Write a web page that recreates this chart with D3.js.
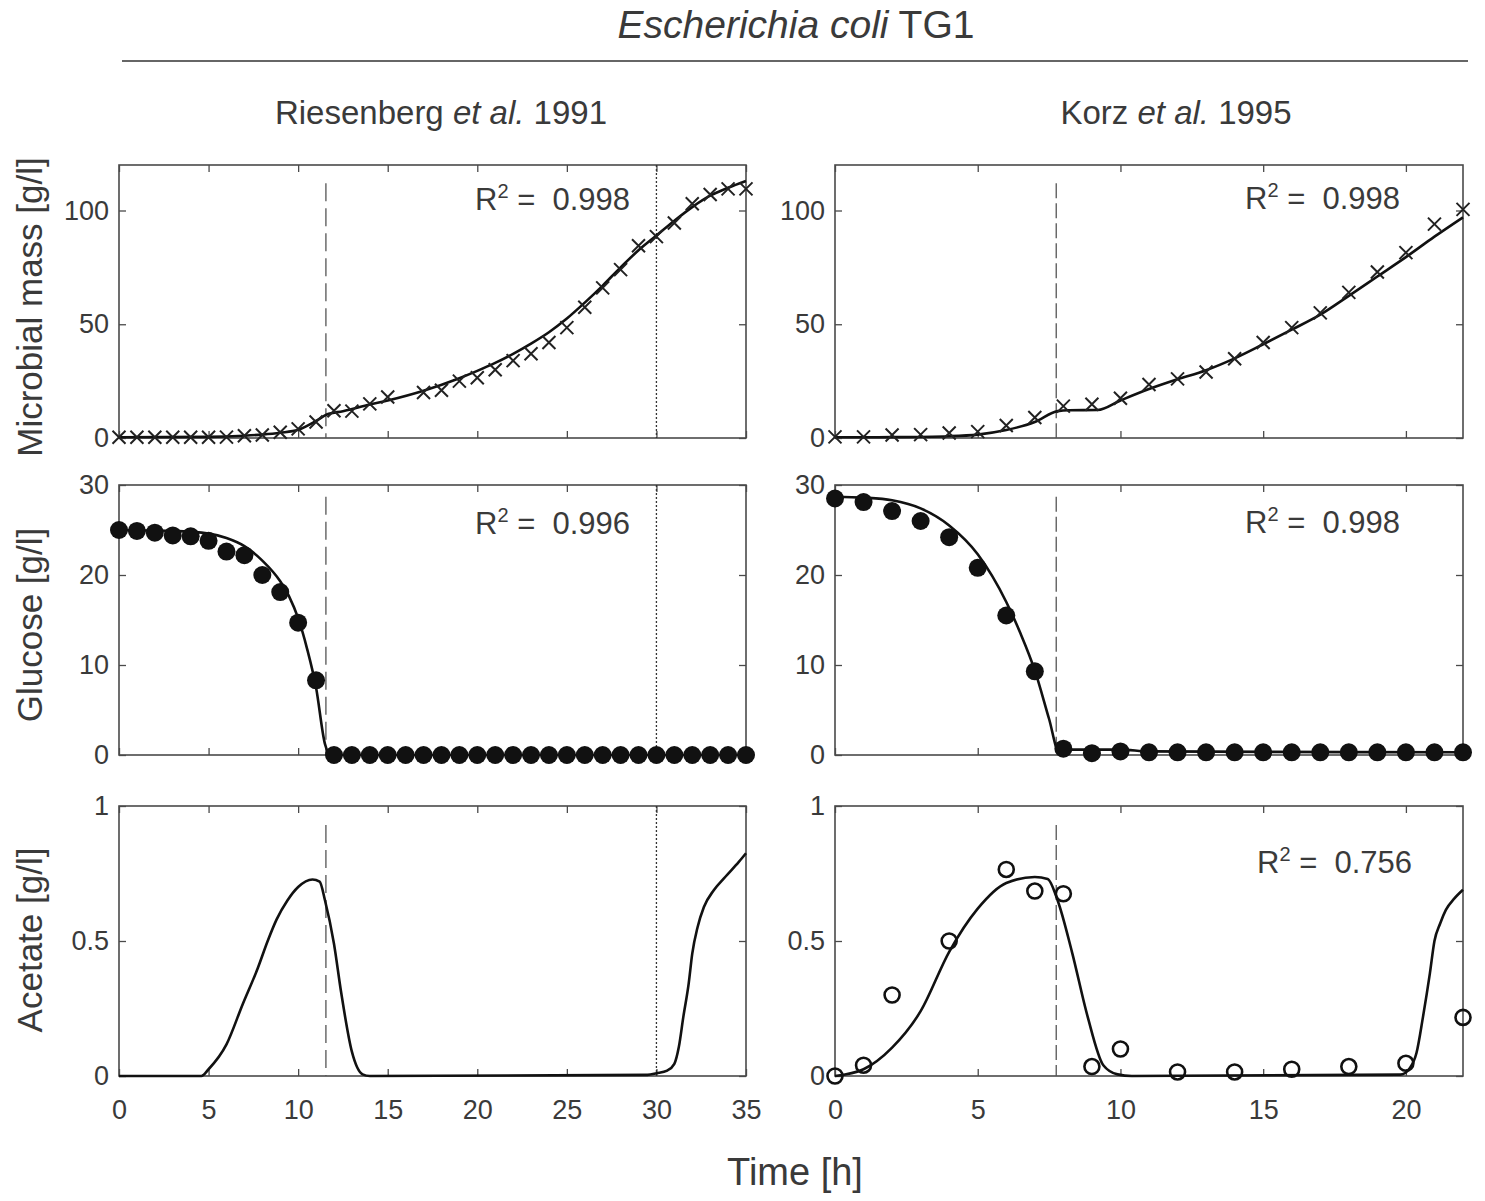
<!DOCTYPE html>
<html>
<head>
<meta charset="utf-8">
<script src="https://cdn.jsdelivr.net/npm/d3@7"></script>
<style>
  body { margin: 0; background: #fff; }
  text { font-family: "Liberation Sans", Arial, sans-serif; fill: #3a3a3a; }
</style>
</head>
<body>
<svg id="chart" width="1485" height="1201"></svg>
<script>
// ---- Riesenberg et al. 1991 ----
const riesMassT = [0,1,2,3,4,5,6,7,8,9,10,11,12,13,14,15,17,18,19,20,21,22,23,24,25,26,27,28,29,30,31,32,33,34,35];
const riesMassV = [0.3,0.3,0.3,0.3,0.3,0.3,0.4,1.0,1.3,2.5,4,7,12,11.8,15,18,20,21,25,26.5,30,34,37,42,48.5,57.5,66,74,84.5,88.5,94.5,103,107,109.5,109.5];
const riesMassFitT = [0,5,7,8,9,10,11,11.6,12.5,14,15,17,19,20,21,22,23,24,25,26,27,28,29,30,31,32,33,34,35];
const riesMassFitV = [0.3,0.5,1,1.5,2.3,3.6,7.5,10.3,11.8,14.7,16.5,20.8,26.3,29.5,33,37,41.5,46.5,52.5,59.5,67,75,82.5,89,95.5,101.5,106.5,110,113];

const riesGlcT = [0,1,2,3,4,5,6,7,8,9,10,11,12,13,14,15,16,17,18,19,20,21,22,23,24,25,26,27,28,29,30,31,32,33,34,35];
const riesGlcV = [25,24.9,24.7,24.4,24.3,23.8,22.6,22.2,20,18.1,14.7,8.3,0,0,0,0,0,0,0,0,0,0,0,0,0,0,0,0,0,0,0,0,0,0,0,0];
const riesGlcFitT = [0,3,5,6,7,8,9,9.5,10,10.5,11,11.5,11.8,35];
const riesGlcFitV = [25,24.9,24.6,24.1,23.2,21.6,19.3,17.6,15.2,11.8,7.5,1.2,0,0];

const riesAceFitT = [0,4.6,5,6,6.9,7.75,8.3,8.8,9.4,10,10.8,11.2,11.5,12,12.4,13,13.6,14,29.5,30,30.6,31,31.25,31.5,31.8,32,32.3,32.65,33.2,33.85,34.6,35];
const riesAceFitV = [0,0,0.025,0.117,0.265,0.4,0.5,0.58,0.65,0.7,0.728,0.72,0.65,0.49,0.31,0.09,0.006,0,0.004,0.01,0.02,0.045,0.107,0.218,0.342,0.453,0.552,0.626,0.688,0.738,0.793,0.825];

// ---- Korz et al. 1995 ----
const korzMassT = [0,1,2,3,4,5,6,7,8,9,10,11,12,13,14,15,16,17,18,19,20,21,22];
const korzMassV = [0.5,0.5,1.3,1.5,2.2,2.8,5.5,9,14,14.8,17.5,23.5,26,29,34.8,42,48.5,55,64,73,81.5,94,100.5];
const korzMassFitT = [0,2,4,5,6,7,7.8,8.2,9.2,10,11,12,13,14,15,16,17,18,19,20,21,22];
const korzMassFitV = [0.3,0.4,0.8,1.5,3.5,7,11.8,12.2,12.3,16.5,21.5,25.8,29.8,35,41.2,47.6,54.2,62.5,71,79.5,88.5,97];

const korzGlcT = [0,1,2,3,4,5,6,7,8,9,10,11,12,13,14,15,16,17,18,19,20,21,22];
const korzGlcV = [28.5,28.1,27.1,26,24.2,20.8,15.5,9.3,0.7,0.2,0.4,0.3,0.3,0.3,0.3,0.3,0.3,0.3,0.3,0.3,0.3,0.3,0.3];
const korzGlcFitT = [0,1,2,3,4,5,6,6.5,7,7.5,7.85,8.2,10,11,22];
const korzGlcFitV = [28.7,28.6,28.3,27.4,25.5,22.3,17,13.5,9.4,4,0.3,0.6,0.6,0.4,0.3];

const korzAceT = [0,1,2,4,6,7,8,9,10,12,14,16,18,20,22];
const korzAceV = [0,0.04,0.3,0.5,0.765,0.685,0.675,0.035,0.1,0.015,0.015,0.025,0.035,0.047,0.217];
const korzAceFitT = [0,1,2,3,4,5,6,7,7.45,7.8,8.3,8.85,9.4,9.9,10.4,19.8,20.14,20.37,20.6,20.84,21,21.2,21.4,21.7,22];
const korzAceFitV = [0,0.025,0.105,0.24,0.46,0.62,0.715,0.737,0.73,0.65,0.46,0.22,0.04,0.006,0,0.005,0.03,0.085,0.22,0.38,0.5,0.565,0.615,0.658,0.69];

// ---- axes / labels ----
const colTitles = ["Riesenberg", "Korz"];
const colYears = ["1991", "1995"];
const rowTitles = ["Microbial mass [g/l]", "Glucose [g/l]", "Acetate [g/l]"];
const xTicksL = [0,5,10,15,20,25,30,35];
const xTicksR = [0,5,10,15,20];
const yTicksMass = [0,50,100];
const yTicksGlc = [0,10,20,30];
const yTicksAce = [0,0.5,1];

const svg = d3.select("#chart");

const cols = [
  { x0: 119, x1: 746, domain: [0, 35], ticks: xTicksL, dashed: 11.55, dotted: 30 },
  { x0: 835, x1: 1463, domain: [0, 22], ticks: xTicksR, dashed: 7.75, dotted: null }
];
const rows = [
  { y0: 165, y1: 438, domain: [0, 120], ticks: yTicksMass, dashTop: 112 },
  { y0: 485, y1: 755, domain: [0, 30], ticks: yTicksGlc, dashTop: 28.7 },
  { y0: 806, y1: 1076, domain: [0, 1], ticks: yTicksAce, dashTop: 0.93 }
];

const panels = [
  { c: 0, r: 0, fitT: riesMassFitT, fitV: riesMassFitV, t: riesMassT, v: riesMassV, mark: "cross", r2: "0.998" },
  { c: 0, r: 1, fitT: riesGlcFitT, fitV: riesGlcFitV, t: riesGlcT, v: riesGlcV, mark: "dot", r2: "0.996" },
  { c: 0, r: 2, fitT: riesAceFitT, fitV: riesAceFitV, t: [], v: [], mark: "ring", r2: null },
  { c: 1, r: 0, fitT: korzMassFitT, fitV: korzMassFitV, t: korzMassT, v: korzMassV, mark: "cross", r2: "0.998" },
  { c: 1, r: 1, fitT: korzGlcFitT, fitV: korzGlcFitV, t: korzGlcT, v: korzGlcV, mark: "dot", r2: "0.998" },
  { c: 1, r: 2, fitT: korzAceFitT, fitV: korzAceFitV, t: korzAceT, v: korzAceV, mark: "ring", r2: "0.756" }
];

const r2Pos = { "0-0": [475, 210], "0-1": [475, 534], "1-0": [1245, 209], "1-1": [1245, 533], "1-2": [1257, 873] };

const axisColor = "#4a4a4a";

panels.forEach(p => {
  const col = cols[p.c], row = rows[p.r];
  const x = d3.scaleLinear().domain(col.domain).range([col.x0, col.x1]);
  const y = d3.scaleLinear().domain(row.domain).range([row.y1, row.y0]);
  const g = svg.append("g");

  // box ticks, pointing inward on all four sides
  const bottom = g.append("g").attr("transform", `translate(0,${row.y1})`)
    .call(d3.axisBottom(x).tickValues(col.ticks).tickSizeInner(-7).tickSizeOuter(0).tickPadding(24)
      .tickFormat(p.r === 2 ? d3.format("") : ""));
  const top = g.append("g").attr("transform", `translate(0,${row.y0})`)
    .call(d3.axisTop(x).tickValues(col.ticks).tickSizeInner(-7).tickSizeOuter(0).tickFormat(""));
  const left = g.append("g").attr("transform", `translate(${col.x0},0)`)
    .call(d3.axisLeft(y).tickValues(row.ticks).tickSizeInner(-7).tickSizeOuter(0).tickPadding(10)
      .tickFormat(d3.format("")));
  const right = g.append("g").attr("transform", `translate(${col.x1},0)`)
    .call(d3.axisRight(y).tickValues(row.ticks).tickSizeInner(-7).tickSizeOuter(0).tickFormat(""));
  [bottom, top, left, right].forEach(a => {
    a.select(".domain").remove();
    a.selectAll(".tick line").attr("stroke", axisColor).attr("stroke-width", 1.3);
    a.selectAll(".tick text").attr("font-size", 27).attr("fill", "#4d4d4d")
      .attr("font-family", "Liberation Sans, Arial, sans-serif");
  });

  g.append("rect")
    .attr("x", col.x0).attr("y", row.y0)
    .attr("width", col.x1 - col.x0).attr("height", row.y1 - row.y0)
    .attr("fill", "none").attr("stroke", axisColor).attr("stroke-width", 1.6);

  // phase markers
  g.append("line")
    .attr("x1", x(col.dashed)).attr("x2", x(col.dashed))
    .attr("y1", y(row.dashTop)).attr("y2", row.y1)
    .attr("stroke", "#555").attr("stroke-width", 1.3)
    .attr("stroke-dasharray", p.c === 0 ? "18,7" : "15,5");
  if (col.dotted !== null) {
    g.append("line")
      .attr("x1", x(col.dotted)).attr("x2", x(col.dotted))
      .attr("y1", row.y0).attr("y2", row.y1)
      .attr("stroke", "#333").attr("stroke-width", 1.3)
      .attr("stroke-dasharray", "2,2");
  }

  // model fit
  const fit = p.fitT.map((t, i) => [t, p.fitV[i]]);
  g.append("path")
    .datum(fit)
    .attr("d", d3.line().x(d => x(d[0])).y(d => y(d[1])).curve(d3.curveMonotoneX))
    .attr("fill", "none").attr("stroke", "#111").attr("stroke-width", 2.6);

  // measurements
  const pts = p.t.map((t, i) => [t, p.v[i]]);
  if (p.mark === "cross") {
    g.selectAll(".m").data(pts).enter().append("path")
      .attr("transform", d => `translate(${x(d[0])},${y(d[1])})`)
      .attr("d", "M-6.5,-6.5L6.5,6.5M-6.5,6.5L6.5,-6.5")
      .attr("stroke", "#222").attr("stroke-width", 2).attr("fill", "none");
  } else if (p.mark === "dot") {
    g.selectAll(".m").data(pts).enter().append("circle")
      .attr("cx", d => x(d[0])).attr("cy", d => y(d[1])).attr("r", 9)
      .attr("fill", "#111");
  } else {
    g.selectAll(".m").data(pts).enter().append("circle")
      .attr("cx", d => x(d[0])).attr("cy", d => y(d[1])).attr("r", 7.5)
      .attr("fill", "none").attr("stroke", "#111").attr("stroke-width", 2.6);
  }

  if (p.r2) {
    const pos = r2Pos[`${p.c}-${p.r}`];
    const tx = g.append("text").attr("x", pos[0]).attr("y", pos[1]).attr("font-size", 31).attr("fill", "#444");
    tx.append("tspan").text("R");
    tx.append("tspan").attr("font-size", 20).attr("dy", -12).text("2");
    tx.append("tspan").attr("dy", 12).text("\u00a0=\u00a0\u00a0" + p.r2);
  }
});

// titles
const title = svg.append("text").attr("x", 796).attr("y", 38).attr("text-anchor", "middle")
  .attr("font-size", 39).attr("fill", "#2a2a2a");
title.append("tspan").attr("font-style", "italic").text("Escherichia coli");
title.append("tspan").text(" TG1");

svg.append("line").attr("x1", 122).attr("x2", 1468).attr("y1", 61).attr("y2", 61)
  .attr("stroke", "#333").attr("stroke-width", 1.6);

[441, 1176].forEach((cx, i) => {
  const t = svg.append("text").attr("x", cx).attr("y", 124).attr("text-anchor", "middle")
    .attr("font-size", 33).attr("fill", "#3a3a3a");
  t.append("tspan").text(colTitles[i] + " ");
  t.append("tspan").attr("font-style", "italic").text("et al.");
  t.append("tspan").text(" " + colYears[i]);
});

[307, 625, 940].forEach((cy, i) => {
  svg.append("text")
    .attr("transform", `translate(42,${cy}) rotate(-90)`)
    .attr("text-anchor", "middle").attr("font-size", 35).attr("fill", "#3a3a3a")
    .text(rowTitles[i]);
});

svg.append("text").attr("x", 795).attr("y", 1185).attr("text-anchor", "middle")
  .attr("font-size", 38).attr("fill", "#3a3a3a").text("Time [h]");
</script>
</body>
</html>
